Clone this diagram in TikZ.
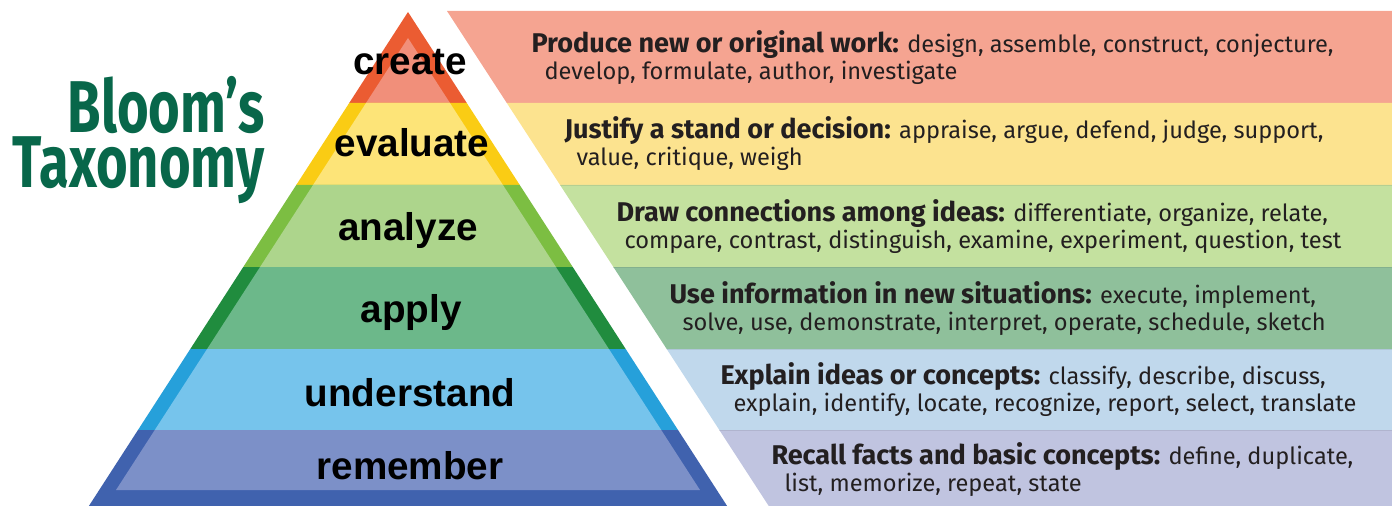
\documentclass[tikz,border=0pt]{standalone}
\usepackage{fontspec}
\newfontfamily\bandfont{Fira Sans}
\newfontfamily\levelfont{Liberation Sans}
\newfontfamily\titlefont{Fira Sans}

\definecolor{createDark}{RGB}{235,92,50}
\definecolor{createLight}{RGB}{241,143,122}
\definecolor{evalDark}{RGB}{250,204,20}
\definecolor{evalLight}{RGB}{253,228,120}
\definecolor{analyzeDark}{RGB}{124,190,66}
\definecolor{analyzeLight}{RGB}{173,213,140}
\definecolor{applyDark}{RGB}{32,140,62}
\definecolor{applyLight}{RGB}{108,184,138}
\definecolor{underDark}{RGB}{38,160,218}
\definecolor{underLight}{RGB}{118,196,236}
\definecolor{rememDark}{RGB}{64,98,174}
\definecolor{rememLight}{RGB}{124,144,200}
\definecolor{createBand}{RGB}{245,164,145}
\definecolor{evalBand}{RGB}{252,227,143}
\definecolor{analyzeBand}{RGB}{196,225,159}
\definecolor{applyBand}{RGB}{143,192,155}
\definecolor{underBand}{RGB}{192,216,236}
\definecolor{rememBand}{RGB}{192,196,224}
\definecolor{titleGreen}{RGB}{8,103,74}
\definecolor{textGray}{RGB}{35,31,32}

\tikzset{every picture/.style={line width=0.75pt}}
\tikzset{
  levelname/.style={anchor=base,inner sep=0.75pt,font=\levelfont\bfseries\fontsize{29}{30}\selectfont},
  bandtext/.style={anchor=base west,inner sep=0.75pt,text=textGray,font=\bandfont\fontsize{17.7}{20}\selectfont},
  titletext/.style={anchor=base east,inner sep=0pt,text=titleGreen,font=\titlefont\bfseries\fontsize{55}{56}\selectfont}
}

\begin{document}
\begin{tikzpicture}[x=0.75pt,y=0.75pt,yscale=-1,xscale=1]
\useasboundingbox (0,0) rectangle (1392,506);

%Shapes: pyramid layers, dark rim and light inside
\foreach \ytop/\ybot/\dk/\lt in {12/103/createDark/createLight,103/185/evalDark/evalLight,185/267/analyzeDark/analyzeLight,267/349/applyDark/applyLight,349/430/underDark/underLight,430/506/rememDark/rememLight}{
  \fill[\dk] ({408-0.646*(\ytop-12)},\ytop) -- ({408+0.646*(\ytop-12)},\ytop) -- ({408+0.646*(\ybot-12)},\ybot) -- ({408-0.646*(\ybot-12)},\ybot) -- cycle;
  \pgfmathsetmacro\itop{max(\ytop,38)}
  \pgfmathsetmacro\ibot{min(\ybot,490)}
  \fill[\lt] ({408-0.646*(\itop-38)},\itop) -- ({408+0.646*(\itop-38)},\itop) -- ({408+0.646*(\ibot-38)},\ibot) -- ({408-0.646*(\ibot-38)},\ibot) -- cycle;
}

%Shapes: slanted bands on the right
\foreach \ytop/\ybot/\bc in {11/103/createBand,103/185/evalBand,185/267/analyzeBand,267/349/applyBand,349/430/underBand,430/506/rememBand}{
  \fill[\bc] ({447+0.65*(\ytop-11)},\ytop) -- (1392,\ytop) -- (1392,\ybot) -- ({447+0.65*(\ybot-11)},\ybot) -- cycle;
}
%Straight Lines: faint seams between bands
\foreach \y in {185,267,349,430}{
  \draw[black,opacity=0.08,line width=0.6] ({447+0.65*(\y-11)},\y) -- (1392,\y);
}

% Title
\draw (265,188) node [titletext] (title) {\begin{tabular}[b]{@{}r@{}}\scalebox{0.74}[1]{Bloom’s}\\[-14.75pt]\scalebox{0.74}[1]{Taxonomy}\end{tabular}};

% Level names
\draw (410,75) node [levelname] (create) {create};
\draw (412,157) node [levelname] (evaluate) {evaluate};
\draw (408,240) node [levelname] (analyze) {analyze};
\draw (411,322) node [levelname] (apply) {apply};
\draw (410,406) node [levelname] (understand) {understand};
\draw (410,479) node [levelname] (remember) {remember};

% Band texts
\draw (530,53) node [bandtext] (createA) {\textbf{\fontsize{20.3}{22}\selectfont Produce new or original work:} design, assemble, construct, conjecture,};
\draw (543,80) node [bandtext] (createB) {develop, formulate, author, investigate};
\draw (563,139) node [bandtext] (evalA) {\textbf{\fontsize{20.3}{22}\selectfont Justify a stand or decision:} appraise, argue, defend, judge, support,};
\draw (575,166) node [bandtext] (evalB) {value, critique, weigh};
\draw (615,221) node [bandtext] (analyzeA) {\textbf{\fontsize{20.3}{22}\selectfont Draw connections among ideas:} differentiate, organize, relate,};
\draw (623,248) node [bandtext] (analyzeB) {compare, contrast, distinguish, examine, experiment, question, test};
\draw (668,303) node [bandtext] (applyA) {\textbf{\fontsize{20.3}{22}\selectfont Use information in new situations:} execute, implement,};
\draw (681,330) node [bandtext] (applyB) {solve, use, demonstrate, interpret, operate, schedule, sketch};
\draw (719,384) node [bandtext] (underA) {\textbf{\fontsize{20.3}{22}\selectfont Explain ideas or concepts:} classify, describe, discuss,};
\draw (732,411) node [bandtext] (underB) {explain, identify, locate, recognize, report, select, translate};
\draw (770,464) node [bandtext] (rememA) {\textbf{\fontsize{20.3}{22}\selectfont Recall facts and basic concepts:} define, duplicate,};
\draw (783,491) node [bandtext] (rememB) {list, memorize, repeat, state};

\end{tikzpicture}
\end{document}
